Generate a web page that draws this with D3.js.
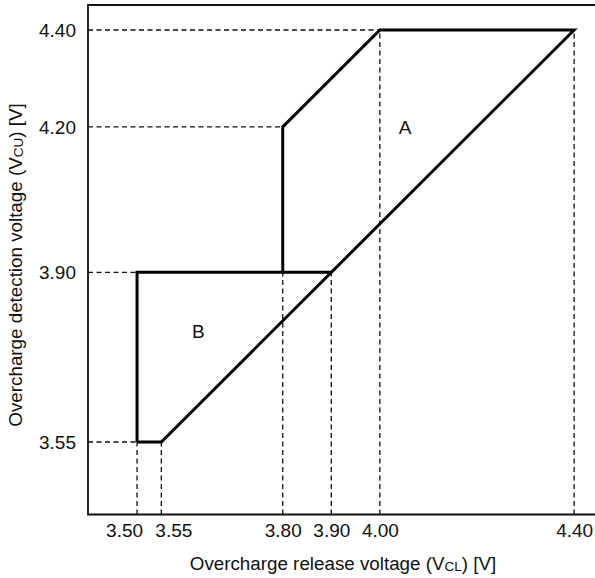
<!DOCTYPE html>
<html lang="en">
<head>
<meta charset="utf-8">
<title>Overcharge voltage ranges</title>
<style>
  body { margin: 0; background: #fff; }
  svg text { font-family: "Liberation Sans", Arial, sans-serif; fill: #111; }
</style>
</head>
<body>
<svg id="chart" width="595" height="578"></svg>
<script src="https://cdn.jsdelivr.net/npm/d3@7/dist/d3.min.js"></script>
<script>
// tick values on each axis
const xTicks = [3.50, 3.55, 3.80, 3.90, 4.00, 4.40];
const yTicks = [3.55, 3.90, 4.20, 4.40];

// outline of the allowed region (release V, detection V)
const outline = [
  [3.50, 3.55], [3.55, 3.55], [4.40, 4.40], [4.00, 4.40],
  [3.80, 4.20], [3.80, 3.90], [3.50, 3.90], [3.50, 3.55]
];
// inner divider between A and B
const divider = [[3.80, 3.90], [3.90, 3.90]];

// dashed guide lines: horizontal ones end at x, vertical ones end at y
const hGuides = [[4.40, 4.00], [4.20, 3.80], [3.90, 3.50], [3.55, 3.50]];
const vGuides = [[3.50, 3.55], [3.55, 3.55], [3.80, 3.90], [3.90, 3.90], [4.00, 4.40], [4.40, 4.40]];

const regionLabels = [
  {name: "A", x: 4.052, y: 4.20},
  {name: "B", x: 3.626, y: 3.779}
];

const svg = d3.select("#chart");
const mLeft = 88, mRight = 595, mTop = 5, mBottom = 514.5;
const fontFamily = "Liberation Sans, Arial, sans-serif";

const x = d3.scaleLinear().domain([3.399, 4.443]).range([mLeft, mRight]);
const y = d3.scaleLinear().domain([3.4004, 4.4516]).range([mBottom, mTop]);

const line = d3.line().x(d => x(d[0])).y(d => y(d[1]));

// dashed guides
svg.append("g")
  .attr("stroke", "#111").attr("stroke-width", 1.3).attr("stroke-dasharray", "5,3.5")
  .call(g => {
    g.selectAll("line.h").data(hGuides).join("line").attr("class", "h")
      .attr("x1", mLeft).attr("x2", d => x(d[1]))
      .attr("y1", d => y(d[0])).attr("y2", d => y(d[0]));
    g.selectAll("line.v").data(vGuides).join("line").attr("class", "v")
      .attr("x1", d => x(d[0])).attr("x2", d => x(d[0]))
      .attr("y1", mBottom).attr("y2", d => y(d[1]));
  });

// frame: left, bottom, top
svg.append("path")
  .attr("d", `M${mRight},${mTop}H${mLeft}V${mBottom}H${mRight}`)
  .attr("fill", "none").attr("stroke", "#111").attr("stroke-width", 1.8);

// region boundary
svg.append("path").attr("d", line(outline))
  .attr("fill", "none").attr("stroke", "#000").attr("stroke-width", 3)
  .attr("stroke-linejoin", "miter");
svg.append("path").attr("d", line(divider))
  .attr("fill", "none").attr("stroke", "#000").attr("stroke-width", 3);

// axes (labels only); the two crowded labels at 3.50 / 3.55 are nudged apart
const nudge = {"3.50": -13, "3.55": 12};
const xAxis = d3.axisBottom(x).tickValues(xTicks).tickSize(0).tickPadding(9)
  .tickFormat(d3.format(".2f"));
svg.append("g").attr("transform", `translate(0,${mBottom})`).call(xAxis)
  .call(g => g.select(".domain").remove())
  .call(g => g.selectAll("text")
    .attr("font-size", 19).attr("font-family", fontFamily).attr("fill", "#111")
    .attr("dx", d => nudge[d3.format(".2f")(d)] || 0));

const yAxis = d3.axisLeft(y).tickValues(yTicks).tickSize(0).tickPadding(12)
  .tickFormat(d3.format(".2f"));
svg.append("g").attr("transform", `translate(${mLeft},0)`).call(yAxis)
  .call(g => g.select(".domain").remove())
  .call(g => g.selectAll("text").attr("font-size", 19).attr("font-family", fontFamily).attr("fill", "#111"));

// region letters
svg.selectAll("text.region").data(regionLabels).join("text")
  .attr("class", "region")
  .attr("x", d => x(d.x)).attr("y", d => y(d.y))
  .attr("text-anchor", "middle").attr("dy", "0.35em")
  .attr("font-size", 19)
  .text(d => d.name);

// axis titles with subscripts
const xt = svg.append("text").attr("x", 343).attr("y", 570)
  .attr("text-anchor", "middle").attr("font-size", 18.8);
xt.append("tspan").text("Overcharge release voltage (V");
xt.append("tspan").attr("font-size", 13.5).attr("dy", 1).text("CL");
xt.append("tspan").attr("dy", -1).text(") [V]");

const yt = svg.append("text").attr("transform", "translate(22,265) rotate(-90)")
  .attr("text-anchor", "middle").attr("font-size", 18.8);
yt.append("tspan").text("Overcharge detection voltage (V");
yt.append("tspan").attr("font-size", 13.5).attr("dy", 1).text("CU");
yt.append("tspan").attr("dy", -1).text(") [V]");
</script>
</body>
</html>
